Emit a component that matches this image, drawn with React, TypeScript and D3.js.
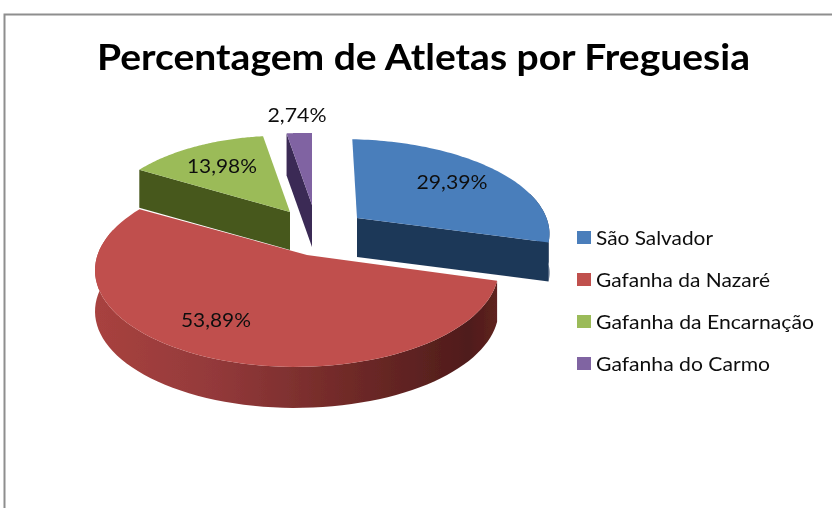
import React from "react";
import * as d3 from "d3";

const title = "Percentagem de Atletas por Freguesia";
const categories = ["São Salvador", "Gafanha da Nazaré", "Gafanha da Encarnação", "Gafanha do Carmo"];
const values = [29.39, 53.89, 13.98, 2.74];
const valueLabels = ["29,39%", "53,89%", "13,98%", "2,74%"];

const topColors = ["#4a7ebb", "#c0504d", "#9bbb59", "#8064a2"];
const wallColors = ["#1f3859", "url(#redWall)", "#46581f", "#3a2a54"];

// placement of every exploded slice (apex, scale of the disc, wall depth)
const apexX = [357, 307, 290, 312];
const apexY = [218, 255, 212, 205];
const sliceScale = [1, 1, 0.9, 0.85];
const sliceScaleY = [0.93, 0.975, 1, 1];
const sliceShear = [0.06, 0, 0, 0];
const depth = [39, 41, 38, 42];
const labelX = [452, 216, 222, 297];
const labelY = [189, 327, 173, 122];
const labelW = [71, 70, 70, 59];
const legendW = [117, 174, 218, 174];

const W = 832, H = 508;
const R = 199, RY = 97.4, PK = 0.15, PM = 0.05;

function project(a: number, i: number, dy = 0): [number, number] {
  const u = Math.sin(a), v = Math.cos(a);
  const d = 1 + PK * v + PM * u;
  const s = sliceScale[i];
  const yOff = (s * sliceScaleY[i] * RY * v) / d;
  return [apexX[i] + (s * R * u) / d - sliceShear[i] * yOff, apexY[i] - yOff + dy];
}

const pieLayout = d3.pie<number>().sort(null).value((d) => d);
const arcs = pieLayout(values);
const line = d3.line();

function anglesOf(i: number): number[] {
  const { startAngle, endAngle } = arcs[i];
  const t = d3.scaleLinear().domain([0, 80]).range([startAngle, endAngle]);
  return d3.range(81).map((k) => t(k));
}

function Slice({ i }: { i: number }) {
  const angles = anglesOf(i);
  const top = angles.map((a) => project(a, i));
  const bottom = angles.map((a) => project(a, i, depth[i]));
  const A: [number, number] = [apexX[i], apexY[i]];
  const Ab: [number, number] = [apexX[i], apexY[i] + depth[i]];
  // only the faces turned toward the viewer are drawn
  const front = angles.map((a) => Math.cos(a) < 0.3);
  const outer = [...top.filter((_, k) => front[k]), ...bottom.filter((_, k) => front[k]).reverse()];
  const showStart = Math.sin(arcs[i].startAngle) < -1e-6;
  const showEnd = Math.sin(arcs[i].endAngle) > 1e-6;
  return (
    <g>
      {showStart && <path d={line([A, top[0], bottom[0], Ab])! + "Z"} fill={wallColors[i]} />}
      {showEnd && <path d={line([A, top[80], bottom[80], Ab])! + "Z"} fill={wallColors[i]} />}
      {outer.length > 0 && <path d={line(outer)! + "Z"} fill={wallColors[i]} />}
      <path d={line([A, ...top])! + "Z"} fill={topColors[i]} />
    </g>
  );
}

export default function App() {
  const font = "Lato, 'Open Sans', sans-serif";
  const legendY = d3.scalePoint<number>().domain(d3.range(categories.length)).range([231, 357]);
  return (
    <svg width={W} height={H} style={{ position: "absolute", left: 0, top: 0, background: "#fff" }} fontFamily={font}>
      <defs>
        <linearGradient id="redWall" gradientUnits="userSpaceOnUse" x1="96" x2="497" y1="0" y2="0">
          <stop offset="0" stopColor="#a8423f" />
          <stop offset="0.3" stopColor="#93393a" />
          <stop offset="0.6" stopColor="#732b29" />
          <stop offset="0.93" stopColor="#4f1c1b" />
          <stop offset="1" stopColor="#5f2220" />
        </linearGradient>
        <filter id="soft" x="-5%" y="-5%" width="110%" height="110%">
          <feGaussianBlur stdDeviation="0.5" />
        </filter>
        <filter id="softText" x="-5%" y="-20%" width="110%" height="140%">
          <feGaussianBlur stdDeviation="0.3" />
        </filter>
      </defs>
      <path d={`M${W},14.5H4.5V${H}`} fill="none" stroke="#8e8e8e" strokeWidth={2} />
      <g filter="url(#soft)">
        {[3, 2, 0, 1].map((i) => (
          <Slice key={i} i={i} />
        ))}
      </g>
      <g filter="url(#softText)">
        <text x={97} y={70} fontSize={37} fontWeight={700} textLength={653} lengthAdjust="spacingAndGlyphs" fill="#000">
          {title}
        </text>
        {valueLabels.map((t, i) => (
          <text key={t} x={labelX[i]} y={labelY[i]} textAnchor="middle" fontSize={20} textLength={labelW[i]} lengthAdjust="spacingAndGlyphs" fill="#111">
            {t}
          </text>
        ))}
        {categories.map((c, i) => (
          <text key={c} x={596} y={legendY(i)! + 14} fontSize={20} textLength={legendW[i]} lengthAdjust="spacingAndGlyphs" fill="#111">
            {c}
          </text>
        ))}
      </g>
      {categories.map((c, i) => (
        <rect key={c} x={577} y={legendY(i)!} width={14} height={13} fill={topColors[i]} />
      ))}
    </svg>
  );
}
